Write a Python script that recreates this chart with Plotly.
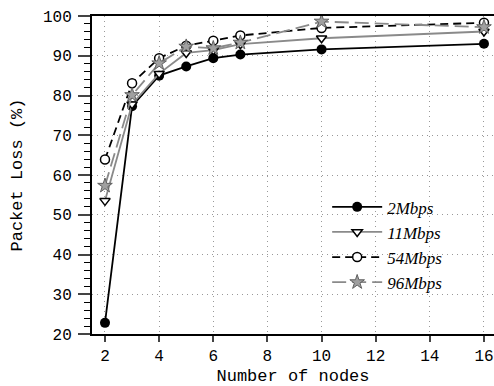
import plotly.graph_objects as go

nodes = [2, 3, 4, 5, 6, 7, 10, 16]
loss_2 = [22.8, 77.3, 85.0, 87.3, 89.4, 90.3, 91.6, 93.0]
loss_11 = [53.5, 77.8, 85.5, 90.7, 91.4, 92.9, 94.4, 96.1]
loss_54 = [63.9, 83.1, 89.4, 92.5, 93.8, 95.1, 97.0, 98.3]
loss_96 = [57.3, 80.1, 88.1, 92.3, 91.9, 93.3, 98.6, 97.2]
names = ["2Mbps", "11Mbps", "54Mbps", "96Mbps"]
x_ticks = [2, 4, 6, 8, 10, 12, 14, 16]
y_ticks = [20, 30, 40, 50, 60, 70, 80, 90, 100]

GRAY = "#8a8a8a"
fig = go.Figure()
fig.add_trace(go.Scatter(x=nodes, y=loss_2, name="<i>" + names[0] + "</i>", mode="lines+markers",
                         line=dict(color="black", width=1.8),
                         marker=dict(symbol="circle", size=10, color="black")))
fig.add_trace(go.Scatter(x=nodes, y=loss_11, name="<i>" + names[1] + "</i>", mode="lines+markers",
                         line=dict(color=GRAY, width=1.8),
                         marker=dict(symbol="triangle-down", size=9, color="white",
                                     line=dict(color="black", width=1.5))))
fig.add_trace(go.Scatter(x=nodes, y=loss_54, name="<i>" + names[2] + "</i>", mode="lines+markers",
                         line=dict(color="black", width=1.8, dash="8px,5px"),
                         marker=dict(symbol="circle", size=9, color="white",
                                     line=dict(color="black", width=1.5))))
fig.add_trace(go.Scatter(x=nodes, y=loss_96, name="<i>" + names[3] + "</i>", mode="lines+markers",
                         line=dict(color=GRAY, width=1.8, dash="14px,6px"),
                         marker=dict(symbol="star", size=11, color="#a0a0a0",
                                     line=dict(color="#606060", width=1))))

mono = "Liberation Mono, Courier New, monospace"
fig.update_layout(
    width=494, height=386,
    margin=dict(l=92, r=0, t=16, b=52, autoexpand=False),
    plot_bgcolor="white", paper_bgcolor="white",
    font=dict(family=mono, color="black", size=14),
    showlegend=True,
    legend=dict(x=0.585, y=0.455, xanchor="left", yanchor="top",
                font=dict(family="Liberation Serif, DejaVu Serif, serif", size=17, color="black"),
                bgcolor="rgba(255,255,255,0)", tracegroupgap=0, itemwidth=50),
    xaxis=dict(range=[1.52, 16.37], tickvals=x_ticks, ticks="outside", ticklen=6,
               tickwidth=1.5, showline=True, linecolor="black", linewidth=2, mirror=True,
               showgrid=True, gridcolor="#999999", griddash="1px,4px", gridwidth=1.2,
               zeroline=False, tickfont=dict(family=mono, size=16), automargin=False,
               ticklabeloverflow="allow",
               title=dict(text="Number of nodes", font=dict(family=mono, size=17), standoff=4)),
    yaxis=dict(range=[20, 100], tickvals=y_ticks, ticks="outside", ticklen=12,
               tickwidth=1.5, showline=True, linecolor="black", linewidth=2,
               showgrid=True, gridcolor="#999999", griddash="1px,4px", gridwidth=1.2,
               zeroline=False, tickfont=dict(family=mono, size=16), automargin=False,
               ticklabelstandoff=3,
               minor=dict(dtick=2, ticks="outside", ticklen=6, tickwidth=1.2, tickcolor="black", showgrid=False),
               title=dict(text="Packet Loss (%)", font=dict(family=mono, size=17), standoff=16)),
)
fig.write_html("out.html", config={"displayModeBar": False},
               post_script="document.body.style.margin='0';document.body.style.overflow='hidden';")
